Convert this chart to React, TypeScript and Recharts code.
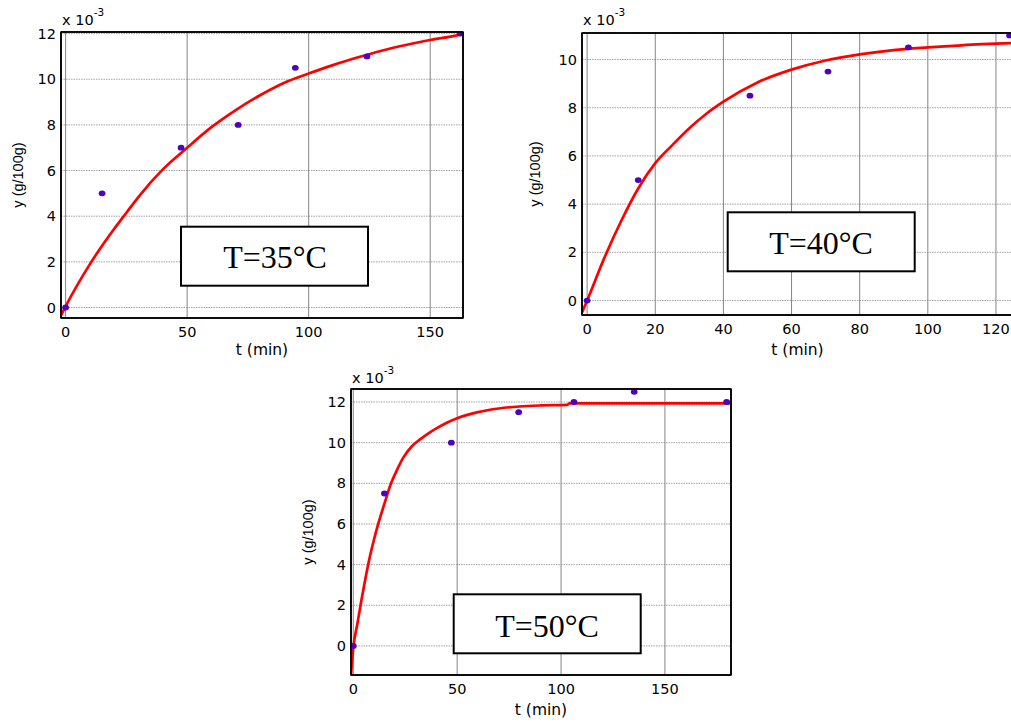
import { ComposedChart, Line, Scatter, XAxis, YAxis, CartesianGrid, Label } from "recharts"

// measured points (y in units of 1e-3 g/100g)
const t35 = [0, 15, 47.5, 71, 94.5, 124, 162.5]
const y35 = [0, 5, 7, 8, 10.5, 11, 12]
const t40 = [0, 15, 47.8, 70.7, 94.3, 124]
const y40 = [0, 5, 8.5, 9.5, 10.5, 11]
const t50 = [0, 15, 47.2, 79.6, 106.2, 135.2, 179.7]
const y50 = [0, 7.5, 10, 11.5, 12, 12.5, 12]

// fitted curves
const fitT35 = [-1.9, 0, 10, 20, 25, 30, 40, 50, 60, 70, 80, 90, 100, 110, 120, 130, 140, 150, 160, 163.5]
const fitY35 = [-0.35, 0.05, 1.9, 3.45, 4.15, 4.85, 6.05, 7.0, 7.9, 8.65, 9.3, 9.85, 10.25, 10.62, 10.95, 11.25, 11.5, 11.72, 11.9, 11.98]
const fitT40 = [-1.5, 0, 5, 10, 15, 20, 25, 30, 35, 40, 50, 60, 70, 80, 90, 100, 110, 125]
const fitY40 = [-0.5, 0, 1.75, 3.3, 4.65, 5.7, 6.45, 7.15, 7.75, 8.25, 9.05, 9.58, 9.96, 10.21, 10.39, 10.5, 10.59, 10.68]
const fitT50 = [-1.1, 0, 2, 4, 6, 8, 10, 12, 15, 18, 21, 24, 28, 32, 36, 40, 45, 50, 60, 70, 80, 90, 103, 104, 181.8]
const fitY50 = [-1.43, -0.1, 1.1, 2.3, 3.4, 4.4, 5.25, 6.0, 7.0, 7.95, 8.65, 9.25, 9.8, 10.15, 10.45, 10.7, 10.98, 11.2, 11.5, 11.68, 11.78, 11.83, 11.86, 11.93, 11.93]

const yTicks12 = [0, 2, 4, 6, 8, 10, 12]
const yTicks10 = [0, 2, 4, 6, 8, 10]
const xTicks35 = [0, 50, 100, 150]
const xTicks40 = [0, 20, 40, 60, 80, 100, 120]
const xTicks50 = [0, 50, 100, 150]

type Pt = { t: number; y: number }
const zip = (ts: number[], ys: number[]): Pt[] => ts.map((t, i) => ({ t, y: ys[i] }))

interface PanelProps {
  left: number
  top: number
  width: number
  height: number
  margin: { top: number; right: number; bottom: number; left: number }
  xAxisHeight: number
  yAxisWidth: number
  xDomain: [number, number]
  yDomain: [number, number]
  xTicks: number[]
  yTicks: number[]
  points: Pt[]
  fit: Pt[]
  xLabelOffset: number
  yLabelOffset: number
  caption: string
  box: { x: number; y: number; tx: number; ty: number }
  mult: { x: number; y: number }
}

const tickFont = { fill: "#000", fontSize: 14.5, fontFamily: "DejaVu Sans" }
const frame = { stroke: "#000", strokeWidth: 1.5 }
const inner = { stroke: "#000", strokeWidth: 1 }

function Dot(props: any) {
  return <ellipse cx={props.cx} cy={props.cy} rx={3.4} ry={2.9} fill="#5000bf" />
}

function Panel(p: PanelProps) {
  // plot-area box, used for the outer frame
  const fx = p.margin.left + p.yAxisWidth
  const fy = p.margin.top
  const fw = p.width - p.margin.right - fx
  const fh = p.height - p.xAxisHeight - fy
  return (
    <div style={{ position: "absolute", left: p.left, top: p.top, width: p.width, height: p.height }}>
      <ComposedChart width={p.width} height={p.height} margin={p.margin}>
        <CartesianGrid vertical={false} stroke="#a3a3a3" strokeDasharray="1.5 1" />
        <CartesianGrid horizontal={false} stroke="#858585" />
        <XAxis
          dataKey="t"
          type="number"
          domain={p.xDomain}
          ticks={p.xTicks}
          allowDataOverflow
          height={p.xAxisHeight}
          tickSize={0}
          tickMargin={9}
          tickLine={false}
          axisLine={frame}
          tick={tickFont}
        >
          <Label value="t (min)" position="insideBottom" offset={p.xLabelOffset} fill="#000" fontSize={15.5} fontFamily="DejaVu Sans" />
        </XAxis>
        <YAxis
          type="number"
          domain={p.yDomain}
          ticks={p.yTicks}
          allowDataOverflow
          width={p.yAxisWidth}
          tickSize={0}
          tickMargin={5}
          tickLine={false}
          axisLine={frame}
          tick={tickFont}
        >
          <Label
            value="y (g/100g)"
            angle={-90}
            position="insideLeft"
            offset={p.yLabelOffset}
            fill="#000"
            fontSize={14.5}
            fontFamily="Liberation Sans"
            style={{ textAnchor: "middle" }}
          />
        </YAxis>
        {/* inward ticks on all four sides */}
        <XAxis xAxisId="in" type="number" orientation="bottom" mirror domain={p.xDomain} ticks={p.xTicks} allowDataOverflow tick={false} tickSize={4} tickLine={inner} axisLine={false} />
        <XAxis xAxisId="top" type="number" orientation="top" mirror domain={p.xDomain} ticks={p.xTicks} allowDataOverflow tick={false} tickSize={4} tickLine={inner} axisLine={frame} />
        <YAxis yAxisId="in" type="number" orientation="left" mirror domain={p.yDomain} ticks={p.yTicks} allowDataOverflow tick={false} tickSize={4} tickLine={inner} axisLine={false} />
        <YAxis yAxisId="right" type="number" orientation="right" mirror domain={p.yDomain} ticks={p.yTicks} allowDataOverflow tick={false} tickSize={4} tickLine={inner} axisLine={frame} />
        <Line data={p.fit} dataKey="y" type="monotone" stroke="#ff0000" strokeWidth={2.7} dot={false} isAnimationActive={false} />
        <Scatter data={p.points} dataKey="y" shape={Dot} isAnimationActive={false} />
      </ComposedChart>
      <svg width={p.width} height={p.height} style={{ position: "absolute", left: 0, top: 0, pointerEvents: "none" }}>
        <rect x={fx} y={fy} width={fw} height={fh} fill="none" stroke="#000" strokeWidth={1.5} />
        <text x={p.mult.x} y={p.mult.y} fill="#000" fontSize={14.5} fontFamily="DejaVu Sans">
          x 10
          <tspan dy={-9} fontSize={10.5}>-3</tspan>
        </text>
        <rect x={p.box.x} y={p.box.y} width={187} height={59} fill="#fff" stroke="#000" strokeWidth={2} />
        <text x={p.box.tx} y={p.box.ty} textAnchor="middle" fill="#000" fontSize={32} fontFamily="Liberation Serif">
          {p.caption}
        </text>
      </svg>
    </div>
  )
}

export default function App() {
  return (
    <div style={{ position: "fixed", left: 0, top: 0, width: 1011, height: 722, overflow: "hidden", background: "#fff" }}>
      <Panel
        left={0}
        top={0}
        width={480}
        height={360}
        margin={{ top: 32, right: 17, bottom: 0, left: 0 }}
        xAxisHeight={42}
        yAxisWidth={61}
        xDomain={[-1.9, 163.5]}
        yDomain={[-0.46, 12.07]}
        xTicks={xTicks35}
        yTicks={yTicks12}
        points={zip(t35, y35)}
        fit={zip(fitT35, fitY35)}
        xLabelOffset={5}
        yLabelOffset={18}
        caption="T=35°C"
        box={{ x: 181, y: 226.7, tx: 275, ty: 268.3 }}
        mult={{ x: 62, y: 25 }}
      />
      <Panel
        left={521}
        top={0}
        width={500}
        height={360}
        margin={{ top: 33, right: 8, bottom: 0, left: 0 }}
        xAxisHeight={45}
        yAxisWidth={61}
        xDomain={[-1.5, 125]}
        yDomain={[-0.6, 11.1]}
        xTicks={xTicks40}
        yTicks={yTicks10}
        points={zip(t40, y40)}
        fit={zip(fitT40, fitY40)}
        xLabelOffset={5}
        yLabelOffset={14}
        caption="T=40°C"
        box={{ x: 206.7, y: 212.3, tx: 300, ty: 254 }}
        mult={{ x: 62, y: 25 }}
      />
      <Panel
        left={290}
        top={360}
        width={460}
        height={362}
        margin={{ top: 29, right: 19, bottom: 0, left: 0 }}
        xAxisHeight={47}
        yAxisWidth={61}
        xDomain={[-1.1, 181.8]}
        yDomain={[-1.43, 12.64]}
        xTicks={xTicks50}
        yTicks={yTicks12}
        points={zip(t50, y50)}
        fit={zip(fitT50, fitY50)}
        xLabelOffset={7}
        yLabelOffset={18}
        caption="T=50°C"
        box={{ x: 163.7, y: 234.3, tx: 257, ty: 276.7 }}
        mult={{ x: 62, y: 22.7 }}
      />
    </div>
  )
}
